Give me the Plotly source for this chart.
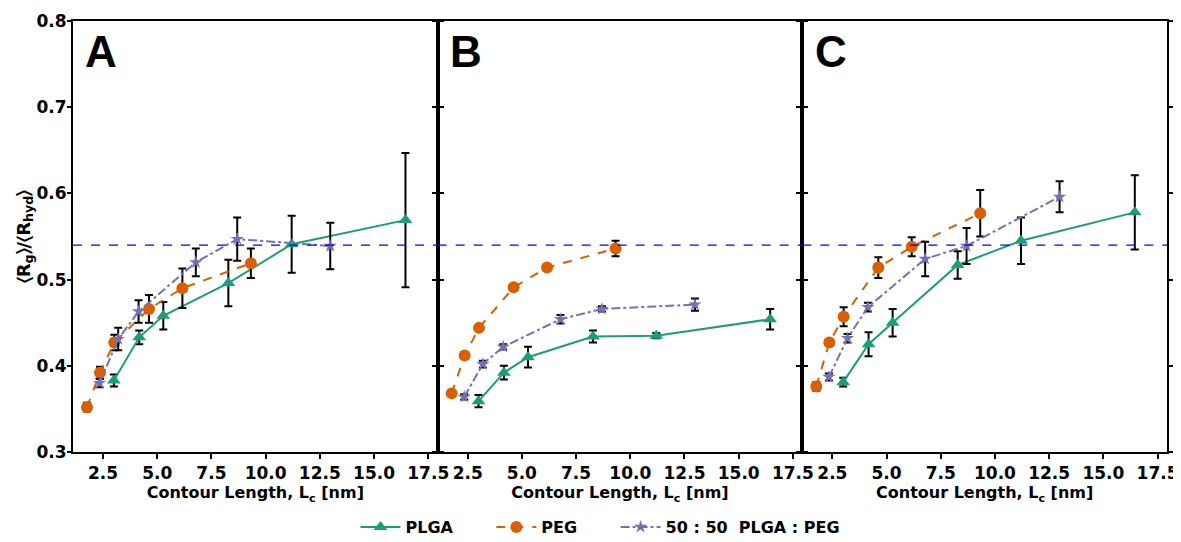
import plotly.graph_objects as go
from plotly.subplots import make_subplots

panels = ["A", "B", "C"]

plga_x = [3.0, 4.17, 5.28, 8.28, 11.2, 16.45]
peg_x = [1.76, 2.36, 3.02, 4.62, 6.16, 9.32]
mix_x = [2.34, 3.2, 4.14, 6.78, 8.69, 12.98]

plga_y = {"A": [0.383, 0.433, 0.458, 0.496, 0.541, 0.569],
          "B": [0.359, 0.392, 0.410, 0.434, 0.435, 0.454],
          "C": [0.381, 0.425, 0.450, 0.517, 0.545, 0.578]}
plga_err = {"A": [0.007, 0.008, 0.016, 0.027, 0.033, 0.078],
            "B": [0.007, 0.008, 0.012, 0.007, 0.003, 0.012],
            "C": [0.005, 0.014, 0.016, 0.016, 0.027, 0.043]}
peg_y = {"A": [0.352, 0.392, 0.427, 0.466, 0.490, 0.519],
         "B": [0.368, 0.412, 0.444, 0.491, 0.514, 0.536],
         "C": [0.376, 0.427, 0.457, 0.514, 0.538, 0.577]}
peg_err = {"A": [0.005, 0.007, 0.009, 0.016, 0.023, 0.017],
           "B": [0.002, 0.002, 0.003, 0.003, 0.003, 0.009],
           "C": [0.005, 0.004, 0.011, 0.012, 0.011, 0.027]}
mix_y = {"A": [0.380, 0.431, 0.463, 0.520, 0.547, 0.539],
         "B": [0.364, 0.402, 0.422, 0.454, 0.466, 0.471],
         "C": [0.387, 0.432, 0.468, 0.524, 0.539, 0.596]}
mix_err = {"A": [0.005, 0.013, 0.013, 0.016, 0.025, 0.027],
           "B": [0.003, 0.004, 0.003, 0.005, 0.003, 0.007],
           "C": [0.004, 0.005, 0.005, 0.020, 0.021, 0.018]}

ref_line = 0.54
x_ticks = [2.5, 5.0, 7.5, 10.0, 12.5, 15.0, 17.5]
y_ticks = [0.3, 0.4, 0.5, 0.6, 0.7, 0.8]

NB = "\u00a0"
series = [
    ("PLGA" + NB * 6, plga_x, plga_y, plga_err, "#1b9e77", "solid", "triangle-up", 12),
    ("PEG" + NB * 6, peg_x, peg_y, peg_err, "#d95f02", "dash", "circle", 12),
    (f"50{NB}:{NB}50{NB}{NB}PLGA{NB}:{NB}PEG", mix_x, mix_y, mix_err, "#7570b3", "dashdot", "star", 10),
]

# the page adds an 8 px body margin, so the figure is sized to fit the window
W, H = 1173, 534

fig = make_subplots(rows=1, cols=3, shared_yaxes=False, horizontal_spacing=0)

tick_font = dict(family="DejaVu Sans", size=17, color="black", weight="bold")

for i, p in enumerate(panels):
    col = i + 1
    for name, xs, ys, errs, color, dash, sym, msize in series:
        fig.add_trace(go.Scatter(
            x=xs, y=ys[p], mode="lines+markers", name=name,
            legendgroup=name, showlegend=(i == 0),
            line=dict(color=color, dash=dash, width=2),
            marker=dict(symbol=sym, size=msize, color=color),
            error_y=dict(type="data", array=errs[p], color="black", thickness=2, width=4),
        ), row=1, col=col)
    fig.add_hline(y=ref_line, line=dict(color="#0000ff", dash="dash", width=1.2), row=1, col=col)
    fig.update_xaxes(range=[1.115, 17.935], tickvals=x_ticks, tickformat=".1f",
                     showline=True, linecolor="black", linewidth=2, mirror=True,
                     ticks="outside", ticklen=5, tickwidth=2, tickcolor="black",
                     showgrid=False, zeroline=False, tickfont=tick_font, automargin=False,
                     title=dict(text="Contour Length, L<sub>c</sub> [nm]",
                                font=dict(family="DejaVu Sans", size=16, color="black", weight="bold"),
                                standoff=0),
                     row=1, col=col)
    fig.update_yaxes(range=[0.3, 0.8], tickvals=y_ticks, tickformat=".1f",
                     showline=True, linecolor="black", linewidth=2, mirror="ticks",
                     ticks="outside", ticklen=4, tickwidth=2, tickcolor="black",
                     showgrid=False, zeroline=False, tickfont=tick_font, automargin=False,
                     ticklabelstandoff=-3,
                     showticklabels=(i == 0), row=1, col=col)
    xref = "x domain" if i == 0 else f"x{col} domain"
    yref = "y domain" if i == 0 else f"y{col} domain"
    fig.add_annotation(text=p, xref=xref, yref=yref, x=0.028, y=0.99,
                       xanchor="left", yanchor="top", showarrow=False,
                       font=dict(family="Liberation Sans", size=44, color="black", weight="bold"))

fig.update_yaxes(title=dict(text="\u2329R<sub>g</sub>\u232a/\u2329R<sub>hyd</sub>\u232a",
                            font=dict(family="DejaVu Sans", size=18, color="black", weight="bold"),
                            standoff=1), row=1, col=1)

fig.update_layout(
    width=W, height=H,
    margin=dict(l=65, r=14, t=13, b=90, autoexpand=False),
    plot_bgcolor="white", paper_bgcolor="white",
    legend=dict(orientation="h", x=0.5 + 6 / W, xanchor="center", xref="container",
                y=1 - 519 / H, yanchor="middle", yref="container",
                font=dict(family="DejaVu Sans", size=16, color="black", weight="bold"),
                itemwidth=40, tracegroupgap=0),
)

fig.write_html("out.html")
